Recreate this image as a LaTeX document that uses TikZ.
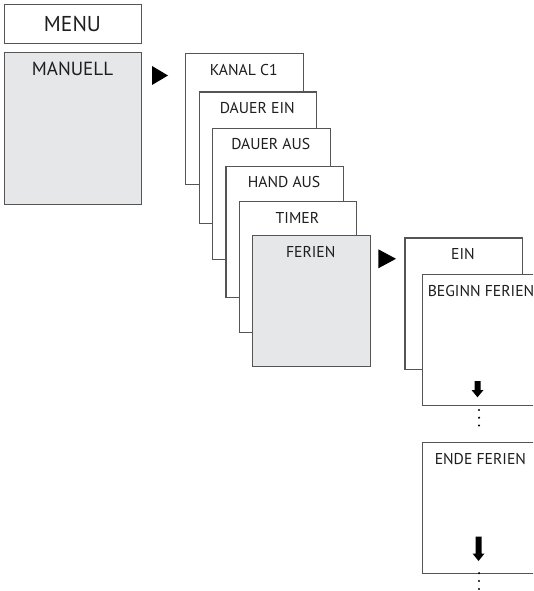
\documentclass[tikz,border=0pt]{standalone}
\usepackage{fontspec}
\setmainfont{PT Sans}
\definecolor{linegray}{HTML}{555555}
\definecolor{boxfill}{HTML}{E6E7E9}
\definecolor{txt}{HTML}{1E1E1E}
\tikzset{
  box/.style={draw=linegray, line width=1.2pt, fill=white, anchor=north west, inner sep=0pt, minimum width=117.5pt, minimum height=131pt},
  graybox/.style={box, fill=boxfill},
  lbl/.style={inner sep=0pt, text=txt, font=\fontsize{15.7}{18}\selectfont},
  tri/.style={fill=black, draw=none},
  dnarrow/.style={fill=black, draw=none},
  dot/.style={circle, fill=black, inner sep=0pt, minimum size=2.4pt}
}
\begin{document}
\begin{tikzpicture}[x=1pt,y=-1pt]
\useasboundingbox (0,0) rectangle (533,591);
\clip (0,0) rectangle (533,591);
% MENU column
\node[box, minimum width=137pt, minimum height=39pt] (menu) at (4,4) {};
\node[lbl, font=\fontsize{21.5}{24}\selectfont] (menut) at (72.5,23.8) {MENU};
\node[graybox, minimum width=137pt, minimum height=152pt] (manuell) at (4,52) {};
\node[lbl, font=\fontsize{19}{22}\selectfont] (manuellt) at (72.5,69) {MANUELL};
% arrow 1
\fill[tri] (152,66) -- (152,85) -- (168,75.5) -- cycle;
% stacked boxes
\node[box] (kanal) at (185,53) {};
\node[lbl] (kanalt) at (243.75,70) {KANAL C1};
\node[box] (dein) at (198.5,91.5) {};
\node[lbl] (deint) at (257.25,108.5) {DAUER EIN};
\node[box] (daus) at (212,127.5) {};
\node[lbl] (daust) at (270.75,144.5) {DAUER AUS};
\node[box] (haus) at (225.3,165.5) {};
\node[lbl] (haust) at (284.05,182) {HAND AUS};
\node[box] (timer) at (238.7,201) {};
\node[lbl] (timert) at (297.45,218) {TIMER};
\node[graybox] (ferien) at (252,235) {};
\node[lbl] (ferient) at (310.75,252) {FERIEN};
% arrow 2
\fill[tri] (378.3,249.3) -- (378.3,268.3) -- (396,258.8) -- cycle;
% right column
\node[box, minimum width=117.4pt, minimum height=131.7pt] (ein) at (404.3,237.3) {};
\node[lbl] (eint) at (463,254) {EIN};
\node[box] (beginn) at (421.7,273.8) {};
\node[lbl] (beginnt) at (481,291.5) {BEGINN FERIEN};
\fill[dnarrow] (474.5,381) -- (480.5,381) -- (480.5,390) -- (483.5,390) -- (477.5,397.3) -- (471.5,390) -- (474.5,390) -- cycle;
\node[dot] (d1) at (479,410) {};
\node[dot] (d2) at (479,417.7) {};
\node[dot] (d3) at (479,425.5) {};
\node[box, minimum height=131.3pt] (ende) at (421.7,441.7) {};
\node[lbl] (endet) at (480.4,459) {ENDE FERIEN};
\fill[dnarrow] (475.5,536.5) -- (481.5,536.5) -- (481.5,553.5) -- (484.5,553.5) -- (478.5,561) -- (472.5,553.5) -- (475.5,553.5) -- cycle;
\node[dot] (d4) at (479,573.2) {};
\node[dot] (d5) at (479,581) {};
\node[dot] (d6) at (479,589) {};
\end{tikzpicture}
\end{document}
